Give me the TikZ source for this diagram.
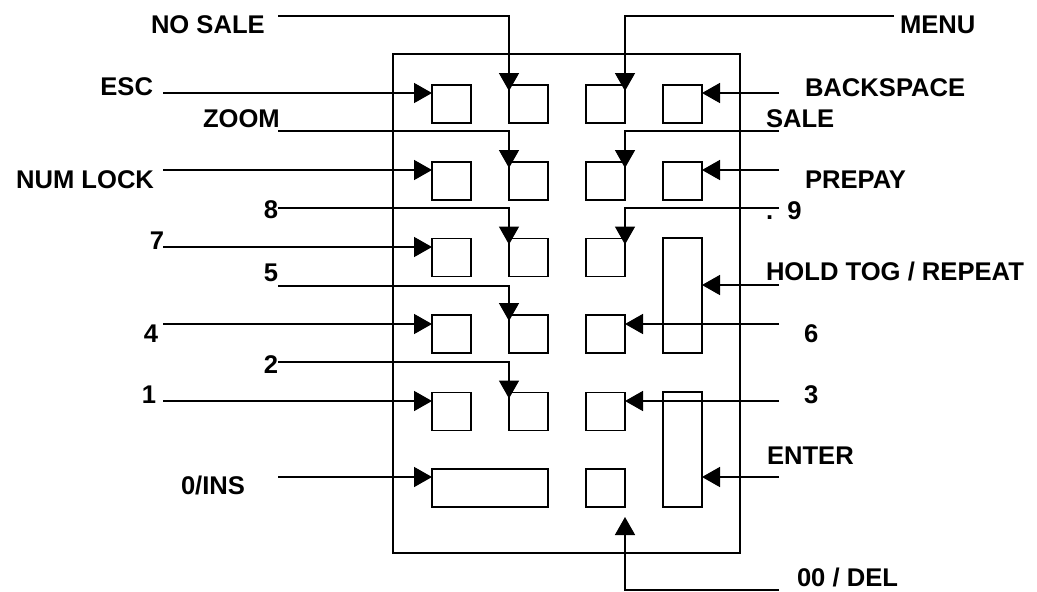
\documentclass[tikz,border=0pt]{standalone}
\usepackage{fontspec}
\setmainfont{Liberation Sans}
\usetikzlibrary{arrows.meta,calc}
\begin{document}
\begin{tikzpicture}[x=1pt,y=-1pt,
  key/.style={draw,line width=1.6pt,inner sep=0pt,outer sep=0pt,minimum width=39pt,minimum height=38pt},
  lbl/.style={inner sep=0pt,outer sep=0pt,font=\fontsize{25.6}{30}\selectfont\bfseries},
  wire/.style={line width=1.6pt},
  arr/.style={wire,-{Triangle[length=18pt,width=20pt]}}]
\useasboundingbox (0,0) rectangle (1037,592);
\node[draw,line width=1.6pt,inner sep=0pt,outer sep=0pt,minimum width=347pt,minimum height=499pt] (frame) at (566.5,303.5) {};
% keys
\node[key] (esc) at (451.5,104) {};
\node[key] (nosale) at (528.5,104) {};
\node[key] (menu) at (605.5,104) {};
\node[key] (bksp) at (682.5,104) {};
\node[key] (numlock) at (451.5,181) {};
\node[key] (zoom) at (528.5,181) {};
\node[key] (sale) at (605.5,181) {};
\node[key] (prepay) at (682.5,181) {};
\node[key] (k7) at (451.5,257.5) {};
\node[key] (k8) at (528.5,257.5) {};
\node[key] (k9) at (605.5,257.5) {};
\node[key,minimum height=115pt] (hold) at (682.5,295.5) {};
\node[key] (k4) at (451.5,334) {};
\node[key] (k5) at (528.5,334) {};
\node[key] (k6) at (605.5,334) {};
\node[key] (k1) at (451.5,411.5) {};
\node[key] (k2) at (528.5,411.5) {};
\node[key] (k3) at (605.5,411.5) {};
\node[key,minimum height=115pt] (enter) at (682.5,449.5) {};
\node[key,minimum width=116pt] (k0) at (490,488) {};
\node[key] (k00) at (605.5,488) {};
% labels
\node[lbl,anchor=base west] (lnosale) at (151,33) {NO SALE};
\node[lbl,anchor=base west] (lmenu) at (900,33) {MENU};
\node[lbl,anchor=base east] (lesc) at (153,95) {ESC};
\node[lbl,anchor=base west] (lbksp) at (805,96) {BACKSPACE};
\node[lbl,anchor=base west] (lzoom) at (203,127) {ZOOM};
\node[lbl,anchor=base west] (lsale) at (766,127) {SALE};
\node[lbl,anchor=base east] (lnumlock) at (154,188) {NUM LOCK};
\node[lbl,anchor=base west] (lprepay) at (805,188) {PREPAY};
\node[lbl,anchor=base east] (l8) at (278,218) {8};
\node[lbl,anchor=base west] (l9) at (766,219) {.\ \ 9};
\node[lbl,anchor=base east] (l7) at (164,249) {7};
\node[lbl,anchor=base west] (lhold) at (766,280) {HOLD TOG / REPEAT};
\node[lbl,anchor=base east] (l5) at (278,281) {5};
\node[lbl,anchor=base east] (l4) at (158,342) {4};
\node[lbl,anchor=base west] (l6) at (804,342) {6};
\node[lbl,anchor=base east] (l2) at (278,373) {2};
\node[lbl,anchor=base east] (l1) at (156,403) {1};
\node[lbl,anchor=base west] (l3) at (804,403) {3};
\node[lbl,anchor=base west] (lenter) at (767,464) {ENTER};
\node[lbl,anchor=base west] (l0) at (181,494) {0/INS};
\node[lbl,anchor=base west] (l00) at (797,586) {00 / DEL};
% connector starts
\coordinate (snosale) at (278,16);
\coordinate (smenu) at (894,16);
\coordinate (sesc) at (163,93);
\coordinate (sbksp) at (779,93);
\coordinate (szoom) at (278,131);
\coordinate (ssale) at (779,131);
\coordinate (snumlock) at (163,170);
\coordinate (sprepay) at (779,170);
\coordinate (s8) at (278,208);
\coordinate (s9) at (779,208);
\coordinate (s7) at (163,247);
\coordinate (shold) at (779,285);
\coordinate (s5) at (278,286);
\coordinate (s4) at (163,324);
\coordinate (s6) at (779,324);
\coordinate (s2) at (278,362);
\coordinate (s1) at (163,401);
\coordinate (s3) at (779,401);
\coordinate (s0) at (278,477);
\coordinate (senter) at (779,477);
\coordinate (s00) at (779,590);
% connectors
\draw[arr] (snosale) -| ($(nosale.north west)+(0,6)$);
\draw[arr] (smenu) -| ($(menu.north east)+(0,6)$);
\draw[arr] (sesc) -- (sesc -| esc.west);
\draw[arr] (sbksp) -- (sbksp -| bksp.east);
\draw[arr] (szoom) -| ($(zoom.north west)+(0,6)$);
\draw[arr] (ssale) -| ($(sale.north east)+(0,6)$);
\draw[arr] (snumlock) -- (snumlock -| numlock.west);
\draw[arr] (sprepay) -- (sprepay -| prepay.east);
\draw[arr] (s8) -| ($(k8.north west)+(0,6)$);
\draw[arr] (s9) -| ($(k9.north east)+(0,6)$);
\draw[arr] (s7) -- (s7 -| k7.west);
\draw[arr] (shold) -- (shold -| hold.east);
\draw[arr] (s5) -| ($(k5.north west)+(0,6)$);
\draw[arr] (s4) -- (s4 -| k4.west);
\draw[arr] (s6) -- (s6 -| k6.east);
\draw[arr] (s2) -| ($(k2.north west)+(0,6)$);
\draw[arr] (s1) -- (s1 -| k1.west);
\draw[arr] (s3) -- (s3 -| k3.east);
\draw[arr] (s0) -- (s0 -| k0.west);
\draw[arr] (senter) -- (senter -| enter.east);
\draw[arr] (s00) -| ($(k00.south east)+(0,10)$);
\end{tikzpicture}
\end{document}
